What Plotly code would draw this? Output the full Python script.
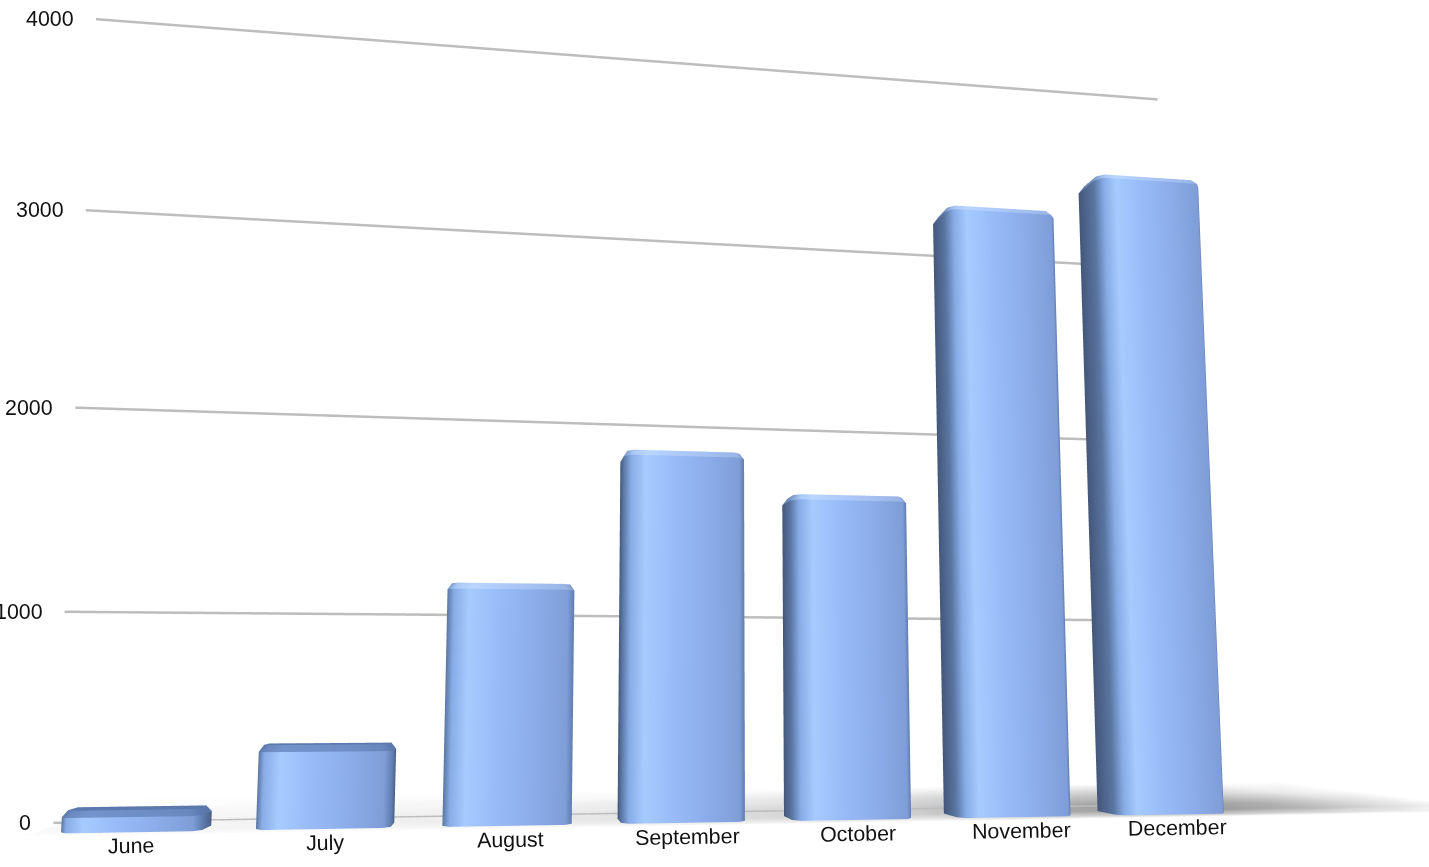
import plotly.graph_objects as go

# ---- data ----
months = ["June", "July", "August", "September", "October", "November", "December"]
values = [95, 377, 1130, 1790, 1590, 3120, 3340]
y_ticks = [0, 1000, 2000, 3000, 4000]

# ---- style ----
BAR_W = 0.72
BAR_DEPTH = 0.06
WALL_Y = 0.122
WALL_X = [-0.56, 6.38]
BEV_X, BEV_Y, BEV_Z = 0.04, 0.012, 30
FONT = dict(family="Liberation Sans, Arial, sans-serif", size=21.4, color="#111111")
SLOT = 0.214
X_RANGE = [-0.6, 8.6]
Y_RANGE = [-0.03, 0.5]
Z_RANGE = [-50, 4050]
EYE_LEVEL = 600

# colours around the bar (left-back -> front -> right-back)
ring_cols = ["#44577A", "#5A76A2", "#88ACE6", "#A6CBFF", "#98BBF8", "#8CADEA", "#7F9ED8", "#5F7DB0", "#4A5F85"]
top_cols = ["#5F78A4", "#7D9AC8", "#A9C8F6", "#BAD6FF", "#AECBFA", "#A4C1F2", "#9AB6E6", "#7F9CC8", "#6F89B4"]
low_top_cols = ["#5C79AD", "#5C79AD", "#6A88BE", "#7393CC", "#7090C8", "#6D8DC4", "#6888BE", "#5C79AD", "#5C79AD"]
CAP_COL = "#5C79AD"
LIGHT = dict(ambient=1, diffuse=0, specular=0, roughness=1, fresnel=0)


def bar_mesh(i, v):
    x0, x1 = i - BAR_W / 2, i + BAR_W / 2
    y0, y1 = 0.0, BAR_DEPTH
    b, by = BEV_X, BEV_Y
    bz = min(BEV_Z, v * 0.3)
    xa, xb = x0 + b, x1 - b
    w = xb - xa
    ring = [(x0, y1), (x0, y0 + by), (xa, y0), (xa + .13 * w, y0), (xa + .4 * w, y0),
            (xa + .7 * w, y0), (xb, y0), (x1, y0 + by), (x1, y1)]
    bevel_cols = low_top_cols if v < EYE_LEVEL else top_cols
    vx, vy, vz, vc, I, J, K = [], [], [], [], [], [], []

    def add(px, py, pz, c):
        vx.append(px); vy.append(py); vz.append(pz); vc.append(c)
        return len(vx) - 1

    def quad(a, b_, c, d):
        I.extend([a, a]); J.extend([b_, c]); K.extend([c, d])

    n = len(ring)
    low = [add(p[0], p[1], 0, ring_cols[k]) for k, p in enumerate(ring)]
    up = [add(p[0], p[1], v - bz, ring_cols[k]) for k, p in enumerate(ring)]
    for k in range(n - 1):
        quad(low[k], low[k + 1], up[k + 1], up[k])
    ins = 0.6

    def inset(p):
        return (p[0] + (i - p[0]) * ins * b / (BAR_W / 2),
                p[1] + (BAR_DEPTH / 2 - p[1]) * ins * by / (BAR_DEPTH / 2))
    mid = [add(p[0], p[1], v - bz, bevel_cols[k]) for k, p in enumerate(ring)]
    tip = [add(*inset(p), v, bevel_cols[k]) for k, p in enumerate(ring)]
    for k in range(n - 1):
        quad(mid[k], mid[k + 1], tip[k + 1], tip[k])
    cap = [add(*inset(p), v, CAP_COL) for p in ring]
    for k in range(1, n - 1):
        I.append(cap[0]); J.append(cap[k]); K.append(cap[k + 1])
    return go.Mesh3d(x=vx, y=vy, z=vz, i=I, j=J, k=K, vertexcolor=vc, flatshading=True,
                     lighting=LIGHT, hoverinfo="skip", showscale=False)


def floor_mesh():
    xs = [-0.5, 2.0, 4.5, 5.5, 6.4, 7.0, 7.6, 8.2]
    ys = [-0.03, 0.0, 0.06, 0.14, 0.3, 0.5]
    peak = [0.97, 0.93, 0.80, 0.66, 0.60, 0.70, 0.86, 1.0]
    prof = [0.0, 0.5, 1.0, 1.0, 0.55, 0.0]
    vx, vy, vz, vc, I, J, K = [], [], [], [], [], [], []
    for a, px in enumerate(xs):
        for c, py in enumerate(ys):
            g = int(round(255 * (1 - (1 - peak[a]) * prof[c])))
            vx.append(px); vy.append(py); vz.append(-1); vc.append(f"rgb({g},{g},{g})")
    ny = len(ys)
    for a in range(len(xs) - 1):
        for c in range(ny - 1):
            p = a * ny + c
            I.extend([p, p]); J.extend([p + ny, p + ny + 1]); K.extend([p + ny + 1, p + 1])
    return go.Mesh3d(x=vx, y=vy, z=vz, i=I, j=J, k=K, vertexcolor=vc, flatshading=True,
                     lighting=LIGHT, hoverinfo="skip", showscale=False)


fig = go.Figure()
fig.add_trace(floor_mesh())

for t in y_ticks:
    fig.add_trace(go.Scatter3d(x=WALL_X, y=[WALL_Y, WALL_Y], z=[t, t], mode="lines",
                               line=dict(color="#BDBDBD", width=5), hoverinfo="skip", showlegend=False))

for i, v in enumerate(values):
    fig.add_trace(bar_mesh(i, v))

ann = []
for t in y_ticks:
    ann.append(dict(x=WALL_X[0], y=WALL_Y, z=t, text=str(t), showarrow=False, xanchor="right",
                    xshift=-20, font=FONT))
for i, m in enumerate(months):
    ann.append(dict(x=i, y=-0.01, z=0, text=m, showarrow=False, yshift=-13, xshift=4 - i * 0.7,
                    textangle=-1, font=FONT))

hidden = dict(visible=False, showgrid=False, zeroline=False, showbackground=False, showspikes=False)
fig.update_layout(
    width=1429, height=1085, margin=dict(l=0, r=0, t=0, b=0),
    paper_bgcolor="white", showlegend=False,
    scene=dict(
        domain=dict(x=[0, 1], y=[0, 1]),
        xaxis=dict(range=X_RANGE, **hidden),
        yaxis=dict(range=Y_RANGE, **hidden),
        zaxis=dict(range=Z_RANGE, **hidden),
        aspectmode="manual",
        aspectratio=dict(x=(X_RANGE[1] - X_RANGE[0]) * SLOT, y=Y_RANGE[1] - Y_RANGE[0], z=1.058),
        camera=dict(
            projection=dict(type="perspective"),
            up=dict(x=0, y=0, z=1),
            eye=dict(x=-0.4375, y=-1.849, z=-0.346),
            center=dict(x=-0.1665, y=-0.169, z=-0.1635),
        ),
        annotations=ann,
    ),
)
fig.write_html("out.html", config=dict(displayModeBar=False),
               post_script="document.body.style.margin='0';document.documentElement.style.overflow='hidden';document.body.style.overflow='hidden';")
